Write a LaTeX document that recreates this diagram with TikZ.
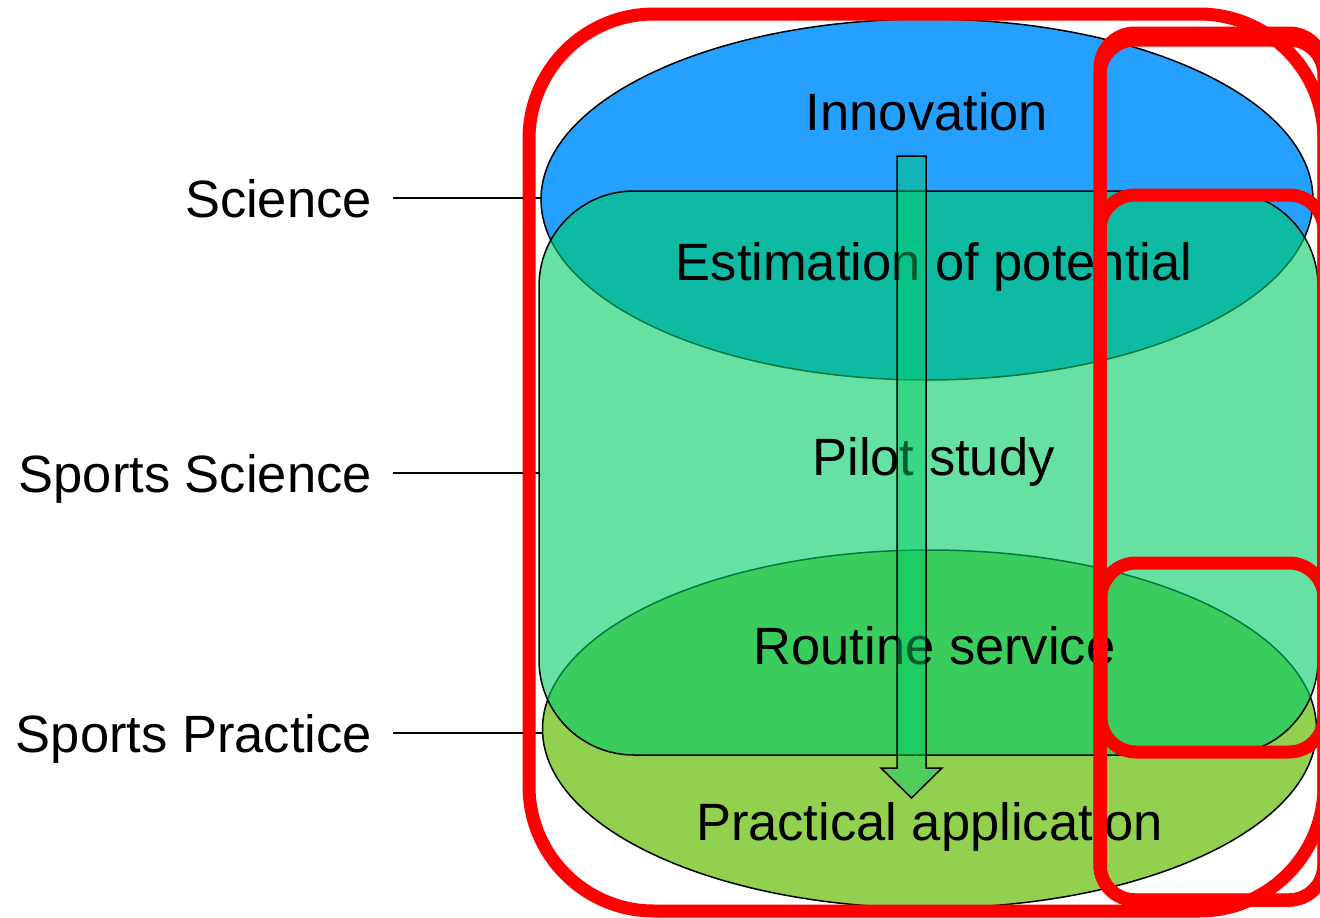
\documentclass[tikz,border=0pt]{standalone}
\usepackage{fontspec}
\setmainfont{Liberation Sans}
\usetikzlibrary{shapes.geometric}
\definecolor{ellblue}{RGB}{38,160,255}
\definecolor{ellgreen}{RGB}{146,208,80}
\definecolor{rectgreen}{RGB}{0,204,102}
\definecolor{boxred}{RGB}{255,0,0}
\begin{document}
\begin{tikzpicture}[x=1pt,y=-1pt,
  lbl/.style={font=\fontsize{52.5}{60}\selectfont, inner sep=0pt, anchor=base},
  side/.style={font=\fontsize{52.5}{60}\selectfont, inner sep=0pt, anchor=base east},
  shapeline/.style={draw=black, line width=1.5pt},
  redbox/.style={draw=boxred, line width=13pt},
  conn/.style={draw=black, line width=2pt}]
\useasboundingbox (0,0) rectangle (1320,918);
\clip (0,0) rectangle (1320,918);
% shapes
\node[ellipse, shapeline, fill=ellblue, minimum width=772pt, minimum height=361pt, inner sep=0pt, outer sep=0pt] (inno) at (927,199.5) {};
\node[ellipse, shapeline, fill=ellgreen, minimum width=774pt, minimum height=358pt, inner sep=0pt, outer sep=0pt] (prac) at (929.5,729) {};
\node[rectangle, rounded corners=95pt, shapeline, fill=rectgreen, fill opacity=0.6, minimum width=779pt, minimum height=564pt, inner sep=0pt, outer sep=0pt] (pilot) at (928.5,473) {};
% texts
\node[lbl] (tinno) at (927,130) {Innovation};
\node[lbl] (test) at (934,280) {Estimation of potential};
\node[lbl] (tpilot) at (933.5,475) {Pilot study};
\node[lbl] (trout) at (934.5,664) {Routine service};
\node[lbl] (tprac) at (929.5,840) {Practical application};
% side labels
\node[side] (sci) at (372,217) {Science};
\node[side] (ssci) at (372,492) {Sports Science};
\node[side] (sprac) at (372,752) {Sports Practice};
\coordinate (c1) at (393,198);
\coordinate (c2) at (393,473);
\coordinate (c3) at (393,733);
\draw[conn] (c1) -- (c1 -| inno.west);
\draw[conn] (c2) -- (c2 -| pilot.west);
\draw[conn] (c3) -- (c3 -| prac.west);
% block arrow
\draw[shapeline, fill=rectgreen, fill opacity=0.45] (897,156) -- (926,156) -- (926,768) -- (942,768) -- (911.5,798) -- (881,768) -- (897,768) -- cycle;
% red boxes
\draw[redbox, rounded corners=125pt] (529,14) rectangle (1324,911);
\draw[redbox, rounded corners=35pt] (1100,33) rectangle (1324,900);
\draw[redbox, rounded corners=35pt] (1100,40) rectangle (1324,900);
\draw[redbox, rounded corners=35pt] (1100,195) rectangle (1324,900);
\draw[redbox, rounded corners=35pt] (1101,563) rectangle (1324,752);
\end{tikzpicture}
\end{document}
